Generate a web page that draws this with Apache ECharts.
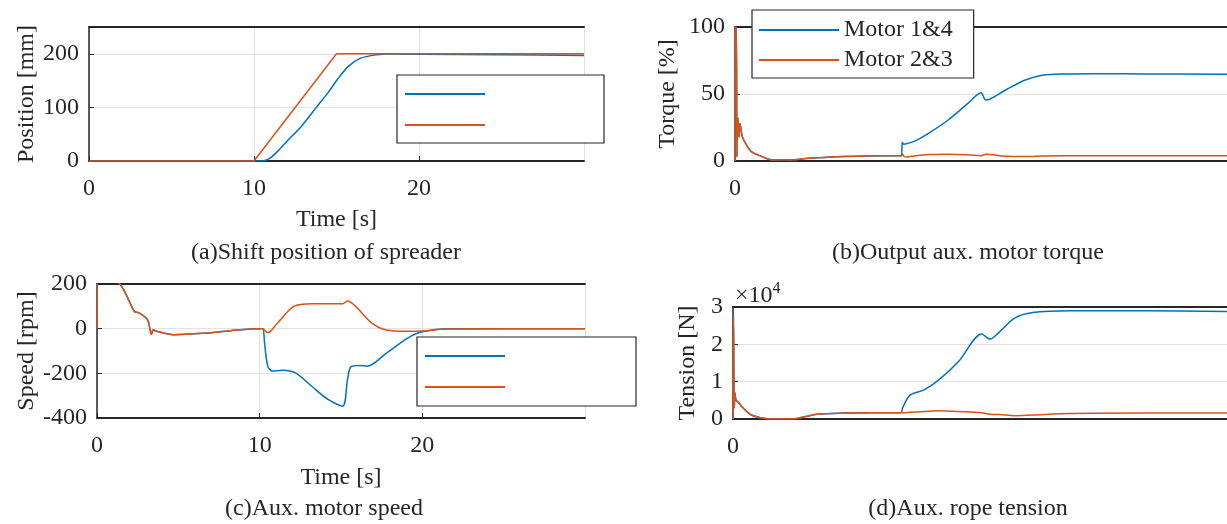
<!DOCTYPE html>
<html>
<head>
<meta charset="utf-8">
<script src="https://cdn.jsdelivr.net/npm/echarts@6/dist/echarts.min.js"></script>
<style>
  html, body { margin: 0; padding: 0; background: #fff; }
  #main { width: 1227px; height: 524px; }
</style>
</head>
<body>
<div id="main"></div>
<script>
// (a) spreader position [mm]
var tPosActual = [0, 10, 10.6, 11.0, 11.4, 12.0, 12.85, 13.8, 14.5, 15.03, 15.7, 16.4, 17.4, 18.5, 20, 25, 30];
var posActual = [0, 0, 0.5, 6, 17, 37, 64, 101, 128, 151, 176, 191, 198, 199.5, 199, 198, 197];
var tPosRef = [0, 10, 15, 30];
var posRef = [0, 0, 200, 200];

// (b) aux motor torque [%]
var tTorque = [0, 0.02, 0.08, 0.12, 0.18, 0.25, 0.3, 0.45, 0.7, 1.0, 1.5, 2.3, 3.0, 3.3, 4.5, 6.2, 8, 10.15,
               10.2, 10.3, 10.5, 11, 11.8, 13, 14.2, 15.0, 15.3, 16.5, 17.7, 18.8, 20, 22, 25, 30];
var torque14 = [0, 100, 100, 3, 32, 18, 28, 18, 12, 7, 4, 0.7, 1, 0.8, 2, 3.2, 3.8, 4,
                14, 12.5, 13, 15, 20.6, 30.6, 43, 51, 45.5, 53, 60.4, 64.2, 65, 65.2, 65, 64.7];
var torque23 = [0, 100, 100, 3, 32, 18, 28, 18, 12, 7, 4, 0.7, 1, 0.8, 2, 3.2, 3.8, 4,
                5.5, 3.5, 3, 4, 4.8, 5, 4.6, 4, 5, 3.5, 3.3, 3.8, 4, 4, 4, 4];

// (c) aux motor speed [rpm]
var tSpeed14 = [0, 0.02, 1.4, 2.3, 2.55, 3.1, 3.35, 3.45, 3.6, 4.7, 6.5, 8.2, 10, 10.2,
                10.3, 10.5, 10.8, 11.4, 12.2, 13.2, 14.2, 15.1, 15.4, 15.6, 16.1, 16.6, 17.8, 19.1, 20, 21.6, 30];
var speed14 = [0, 260, 200, 77, 72, 40, -25, -5, -10, -27, -21, -9, 0, 0,
               -64, -168, -190, -186, -198, -258, -317, -347, -228, -172, -165, -168, -109, -42, -14, 0, 0];
var tSpeed23 = [0, 0.02, 1.4, 2.3, 2.55, 3.1, 3.35, 3.45, 3.6, 4.7, 6.5, 8.2, 10, 10.2,
                10.3, 10.5, 11.1, 12.1, 13.2, 15.1, 15.4, 15.9, 16.9, 17.8, 19.1, 20, 21.6, 30];
var speed23 = [0, 260, 200, 77, 72, 40, -25, -5, -10, -27, -21, -9, 0, 0,
               -6, -18, 25, 100, 112, 112, 124, 100, 25, -6, -12, -10, -2, 0];

// (d) aux rope tension [x10^4 N]
var tTension = [0, 0.03, 0.08, 0.12, 0.18, 0.3, 0.6, 1.15, 2.1, 3.5, 5.1, 6.9, 8.5, 10.2,
                10.3, 10.75, 11.6, 12.5, 13.7, 15.1, 15.6, 16.2, 17.1, 18.2, 20.5, 25, 30];
var tension14 = [0, 2.75, 0.3, 0.7, 0.5, 0.46, 0.3, 0.1, 0.01, 0, 0.13, 0.16, 0.17, 0.17,
                 0.3, 0.64, 0.78, 1.05, 1.54, 2.28, 2.14, 2.34, 2.7, 2.85, 2.9, 2.9, 2.88];
var tension23 = [0, 2.75, 0.3, 0.7, 0.5, 0.46, 0.3, 0.1, 0.01, 0, 0.13, 0.16, 0.17, 0.17,
                 0.17, 0.18, 0.2, 0.22, 0.2, 0.17, 0.13, 0.12, 0.09, 0.11, 0.15, 0.16, 0.16];

var seriesNames = ['Motor 1&4', 'Motor 2&3'];
var blue = '#0072BD', orange = '#D95319';
var font = 'Liberation Serif';
var ink = '#262626';
var fs = 24;

function zip(t, v) {
    var out = [];
    for (var i = 0; i < t.length; i++) out.push([t[i], v[i]]);
    return out;
}

var myChart = echarts.init(document.getElementById('main'));

function bottomX(grid, name, onlyZero, vGrid, gap) {
    return {
        type: 'value', gridIndex: grid, min: 0, max: 30, interval: 10,
        name: name, nameLocation: 'middle', nameGap: gap,
        nameTextStyle: { fontFamily: font, fontSize: fs, color: ink },
        axisLine: { onZero: false, lineStyle: { color: ink, width: 2 } },
        axisTick: { show: !onlyZero, inside: true, length: 5, lineStyle: { color: ink } },
        axisLabel: {
            margin: 16, fontFamily: font, fontSize: fs, color: ink, showMaxLabel: false,
            formatter: function (v) { return (onlyZero && v !== 0) ? '' : String(v); }
        },
        splitLine: { show: vGrid, lineStyle: { color: '#e2e2e2' } }
    };
}
function topX(grid) {
    return {
        type: 'value', gridIndex: grid, position: 'top', min: 0, max: 30,
        axisLine: { onZero: false, lineStyle: { color: ink, width: 2 } },
        axisTick: { show: false }, axisLabel: { show: false }, splitLine: { show: false }
    };
}
function leftY(grid, name, min, max, interval, gap, hideMax) {
    return {
        type: 'value', gridIndex: grid, min: min, max: max, interval: interval,
        name: name, nameLocation: 'middle', nameGap: gap, nameRotate: 90,
        nameTextStyle: { fontFamily: font, fontSize: fs, color: ink },
        axisLine: { show: true, onZero: false, lineStyle: { color: ink, width: 1.5 } },
        axisTick: { show: true, inside: true, length: 5, lineStyle: { color: ink } },
        axisLabel: { margin: 10, fontFamily: font, fontSize: fs, color: ink, showMaxLabel: !hideMax },
        splitLine: { show: true, lineStyle: { color: '#e2e2e2' } }
    };
}
function line(name, x, y, data, color, smooth) {
    return {
        name: name, type: 'line', xAxisIndex: x, yAxisIndex: y, data: data,
        symbol: 'none', smooth: smooth ? 0.3 : false,
        lineStyle: { color: color, width: 1.5 }, itemStyle: { color: color }, clip: true
    };
}
function legendBox(left, top, pad, showText) {
    return {
        left: left, top: top, orient: 'vertical', data: seriesNames,
        icon: 'rect', itemWidth: 80, itemHeight: 2,
        itemGap: showText ? 4 : 11, padding: pad,
        backgroundColor: '#fff', borderColor: ink, borderWidth: 1.2, borderRadius: 0,
        selectedMode: false,
        formatter: showText ? '{name}' : function () { return '\u00a0'; },
        textStyle: { fontFamily: font, fontSize: showText ? 24 : 20, color: ink,
                     lineHeight: showText ? 26 : 20 }
    };
}

var option = {
    animation: false,
    textStyle: { fontFamily: font },
    grid: [
        { left: 89, top: 27, width: 495, height: 134 },
        { left: 735, top: 27, width: 495, height: 134 },
        { left: 97, top: 284, width: 488, height: 134 },
        { left: 733, top: 307, width: 495, height: 112 }
    ],
    xAxis: [
        bottomX(0, 'Time [s]', false, true, 47),
        bottomX(1, '', true, false, 47),
        bottomX(2, 'Time [s]', false, true, 48),
        bottomX(3, '', true, false, 47),
        topX(0), topX(1), topX(2), topX(3)
    ],
    yAxis: [
        leftY(0, 'Position [mm]', 0, 250, 100, 44, true),
        leftY(1, 'Torque [%]', 0, 100, 50, 55, false),
        leftY(2, 'Speed [rpm]', -400, 200, 200, 54, false),
        leftY(3, 'Tension [N]', 0, 3, 1, 33, false),
        {
            type: 'value', gridIndex: 3, min: 0, max: 3, position: 'left',
            name: '\u00d710{s|4}', nameLocation: 'end', nameGap: -3,
            nameTextStyle: {
                fontFamily: font, fontSize: fs, color: ink, align: 'left', padding: [0, 0, 0, 2],
                rich: { s: { fontFamily: font, fontSize: 16, color: ink, padding: [0, 0, 13, 0] } }
            },
            axisLine: { show: false }, axisTick: { show: false }, axisLabel: { show: false },
            splitLine: { show: false }
        }
    ],
    legend: [
        legendBox(397, 75, [9, 109, 8, 8], false),
        legendBox(752, 10, [7, 21, 5, 7], true),
        legendBox(417, 337, [9, 121, 9, 8], false)
    ],
    series: [
        line(seriesNames[0], 0, 0, zip(tPosActual, posActual), blue, true),
        line(seriesNames[1], 0, 0, zip(tPosRef, posRef), orange, false),
        line(seriesNames[0], 1, 1, zip(tTorque, torque14), blue, true),
        line(seriesNames[1], 1, 1, zip(tTorque, torque23), orange, true),
        line(seriesNames[0], 2, 2, zip(tSpeed14, speed14), blue, true),
        line(seriesNames[1], 2, 2, zip(tSpeed23, speed23), orange, true),
        line(seriesNames[0], 3, 3, zip(tTension, tension14), blue, true),
        line(seriesNames[1], 3, 3, zip(tTension, tension23), orange, true)
    ],
    graphic: [
        { type: 'text', x: 326, y: 253, style: { text: '(a)Shift position of spreader', font: fs + 'px "' + font + '"', fill: ink, textAlign: 'center', textVerticalAlign: 'middle' } },
        { type: 'text', x: 968, y: 253, style: { text: '(b)Output aux. motor torque', font: fs + 'px "' + font + '"', fill: ink, textAlign: 'center', textVerticalAlign: 'middle' } },
        { type: 'text', x: 324, y: 509, style: { text: '(c)Aux. motor speed', font: fs + 'px "' + font + '"', fill: ink, textAlign: 'center', textVerticalAlign: 'middle' } },
        { type: 'text', x: 968, y: 509, style: { text: '(d)Aux. rope tension', font: fs + 'px "' + font + '"', fill: ink, textAlign: 'center', textVerticalAlign: 'middle' } }
    ]
};

myChart.setOption(option);
</script>
</body>
</html>
